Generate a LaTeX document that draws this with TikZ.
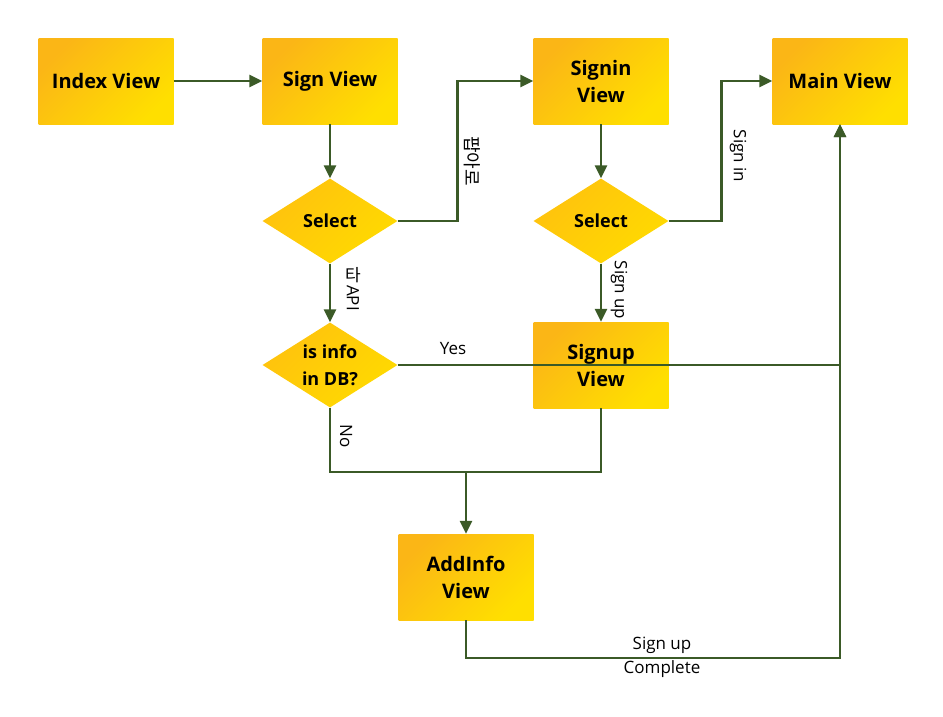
\documentclass[tikz,border=0pt]{standalone}
\usepackage{fontspec}
\setmainfont{Open Sans}
\newfontfamily\krfont{Noto Sans CJK KR}
\usetikzlibrary{arrows.meta,shapes.geometric}
\definecolor{boxA}{HTML}{FBB616}
\definecolor{boxB}{HTML}{FFDF00}
\definecolor{dmA}{HTML}{FFC20E}
\definecolor{dmB}{HTML}{FFDA00}
\definecolor{lineC}{HTML}{3B5A27}
\tikzset{
  box/.style={rectangle, minimum width=135pt, minimum height=86pt, inner sep=0pt,
    top color=boxA, bottom color=boxB, shading angle=45, align=center,
    font=\fontsize{20}{27}\selectfont\bfseries},
  dia/.style={diamond, minimum width=135pt, minimum height=85pt, inner sep=0pt,
    top color=dmA, bottom color=dmB, shading angle=45},
  dtext/.style={align=center, font=\fontsize{18}{27}\selectfont\bfseries},
  line/.style={draw=lineC, line width=2.6pt},
  conn/.style={line, -{Triangle[length=13pt,width=12pt]}},
  lab/.style={font=\fontsize{17}{24}\selectfont, inner sep=0pt, align=center}
}
\begin{document}
\begin{tikzpicture}[x=1pt,y=-1pt]
\useasboundingbox (0,0) rectangle (943,716);
\node[box] (index) at (106,81) {Index View};
\node[box] (sign) at (330,81) {Sign View};
\node[box] (signin) at (601,81) {Signin\\View};
\node[box] (main) at (840,81) {Main View};
\node[dia] (sel1) at (330,221) {};
\node[dtext] (sel1t) at (sel1.center) {Select};
\node[dia] (sel2) at (601,221) {};
\node[dtext] (sel2t) at (sel2.center) {Select};
\node[dia] (isinfo) at (330,365) {};
\node[dtext] (isinfot) at (isinfo.center) {is info\\in DB?};
\node[box] (signup) at (601,365) {Signup\\View};
\node[box] (addinfo) at (466,577) {AddInfo\\View};
\coordinate (m) at (466,472);
\coordinate (c2) at (840,658);

\draw[conn] (index) -- (sign);
\draw[conn] (sign) -- (sel1);
\draw[conn] (sel1.east) -- ++(60,0) |- (signin.west);
\draw[conn] (signin) -- (sel2);
\draw[conn] (sel2.east) -- ++(53,0) |- (main.west);
\draw[conn] (sel2) -- (signup);
\draw[conn] (sel1) -- (isinfo);
\draw[conn] (isinfo.east) -| (main.south);
\draw[line] (isinfo.south) |- (m);
\draw[line] (signup.south) |- (m);
\draw[conn] (m) -- (addinfo.north);
\draw[conn] (addinfo.south) |- (c2) -- (main.south);

\node[lab, rotate=-90] (l1) at (472,161) {\krfont\fontsize{18}{22}\selectfont 팝아로};
\node[lab, rotate=-90] (l2) at (738,156) {Sign in};
\node[lab, rotate=-90] (l3) at (619,290) {Sign up};
\node[lab] (l4a) at (353,275) {\krfont\fontsize{17}{20}\selectfont 타};
\node[lab, rotate=-90] (l4b) at (353,298) {API};
\node[lab, rotate=-90] (l5) at (346,436) {No};
\node[lab] (l6) at (453,349) {Yes};
\node[lab] (l7) at (662,657) {Sign up\\Complete};
\end{tikzpicture}
\end{document}
